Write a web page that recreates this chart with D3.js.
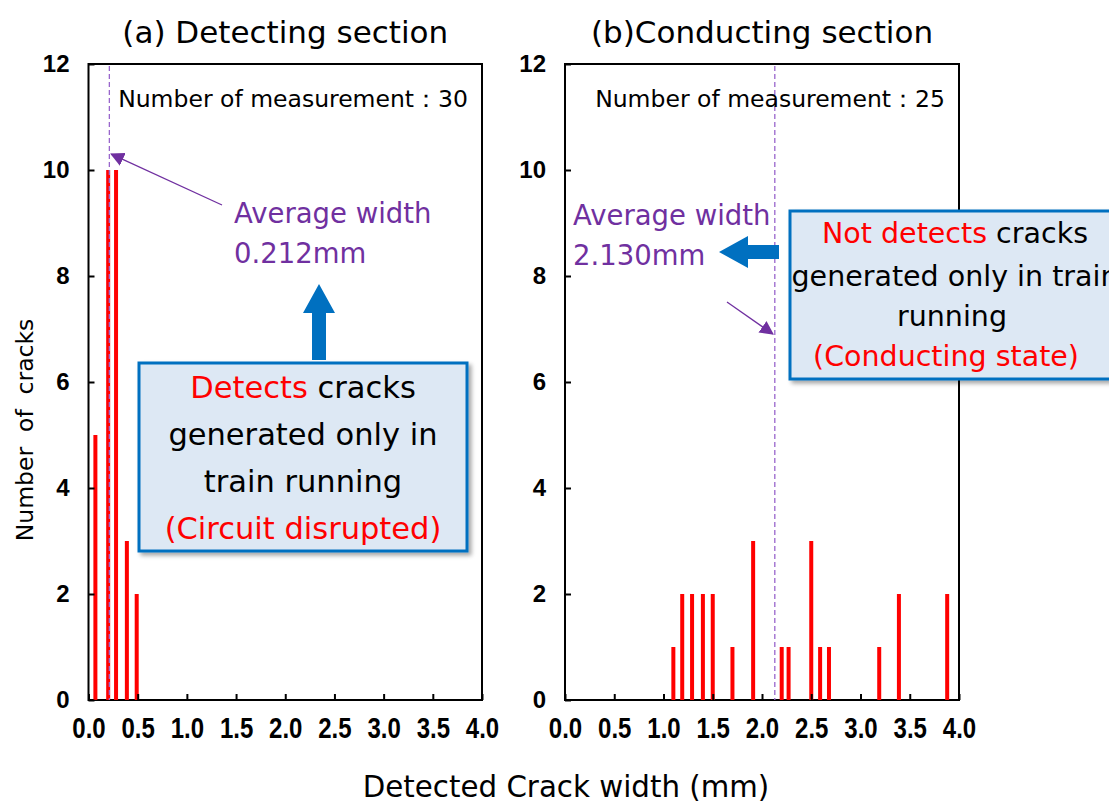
<!DOCTYPE html>
<html><head><meta charset="utf-8">
<script src="https://cdn.jsdelivr.net/npm/d3@7"></script>
<style>
body{margin:0;background:#fff;}
svg{display:block;font-family:"DejaVu Sans","Noto Sans",sans-serif;}
</style></head>
<body><svg id="c" width="1109" height="803"></svg>
<script>
// ---- data ----
const xTicks = [0,0.5,1,1.5,2,2.5,3,3.5,4];
const yTicks = [0,2,4,6,8,10,12];
const widthsA = [0.07,0.2,0.28,0.39,0.49];
const countsA = [5,10,10,3,2];
const widthsB = [1.1,1.19,1.29,1.4,1.5,1.7,1.91,2.2,2.27,2.5,2.59,2.68,3.19,3.39,3.88];
const countsB = [1,2,2,2,2,1,3,1,1,3,1,1,1,2,2];
const titles = ["(a) Detecting section","(b)Conducting section"];
const nMeas = [30,25];
const avgW = [0.212,2.130];
const avgLabels = ["0.212mm","2.130mm"];

const svg = d3.select("#c");
const defs = svg.append("defs");
const f = defs.append("filter").attr("id","sh").attr("x","-10%").attr("y","-10%").attr("width","130%").attr("height","130%");
f.append("feDropShadow").attr("dx",3).attr("dy",3).attr("stdDeviation",2).attr("flood-color","#000").attr("flood-opacity",0.35);
defs.append("marker").attr("id","pa").attr("viewBox","0 0 10 10").attr("refX",9).attr("refY",5)
  .attr("markerWidth",14).attr("markerHeight",14).attr("markerUnits","userSpaceOnUse").attr("orient","auto")
  .append("path").attr("d","M0,0L10,5L0,10Z").attr("fill","#7030A0");

const PURPLE="#7030A0", BLUE="#0070C0";
const TICKFONT="'Liberation Sans',Arial,sans-serif";
const yTop=64, yBot=700;

function panel(x0,x1,widths,counts,i){
  const x=d3.scaleLinear().domain([0,4]).range([x0,x1]);
  const y=d3.scaleLinear().domain([0,12]).range([yBot,yTop]);
  const g=svg.append("g");
  g.append("rect").attr("x",x0).attr("y",yTop).attr("width",x1-x0).attr("height",yBot-yTop)
    .attr("fill","none").attr("stroke","#000").attr("stroke-width",2);
  g.selectAll(".bar").data(widths.map((w,k)=>({w,c:counts[k]}))).join("rect")
    .attr("x",d=>x(d.w)-2).attr("width",4).attr("y",d=>y(d.c)).attr("height",d=>yBot-y(d.c))
    .attr("fill","#FF0000");
  const ax=g.append("g").attr("transform",`translate(0,${yBot})`)
    .call(d3.axisBottom(x).tickValues(xTicks).tickFormat(d3.format(".1f")).tickSizeInner(-6).tickSizeOuter(0).tickPadding(14));
  ax.select(".domain").remove();
  ax.selectAll("line").attr("stroke","#000").attr("stroke-width",2);
  ax.selectAll("text").attr("font-family",TICKFONT).attr("font-weight","bold")
    .attr("font-size",24).attr("fill","#000").attr("transform","scale(1,1.22)");
  const ay=g.append("g").attr("transform",`translate(${x0},0)`)
    .call(d3.axisLeft(y).tickValues(yTicks).tickSizeInner(-6).tickSizeOuter(0).tickPadding(19));
  ay.select(".domain").remove();
  ay.selectAll("line").attr("stroke","#000").attr("stroke-width",2);
  ay.selectAll("text").attr("font-family",TICKFONT).attr("font-weight","bold")
    .attr("font-size",24).attr("fill","#000");
  g.append("line").attr("x1",x(avgW[i])).attr("x2",x(avgW[i])).attr("y1",yTop+2).attr("y2",yBot)
    .attr("stroke","#9966CC").attr("stroke-width",1.3).attr("stroke-dasharray","5,3");
  svg.append("text").attr("x",(x0+x1)/2).attr("y",43).attr("text-anchor","middle")
    .attr("font-size",31).attr("fill","#000").text(titles[i]);
  g.append("text").attr("x",x1-14).attr("y",107).attr("text-anchor","end")
    .attr("font-size",23.5).attr("fill","#000").text("Number of measurement\uFF1A"+nMeas[i]);
  return {x,y};
}

const A=panel(88.5,482,widthsA,countsA,0);
const B=panel(565,959,widthsB,countsB,1);

// ---- panel (a) annotations ----
svg.append("line").attr("x1",222).attr("y1",205).attr("x2",A.x(avgW[0])+2).attr("y2",A.y(10.3))
  .attr("stroke",PURPLE).attr("stroke-width",1.3).attr("marker-end","url(#pa)");
const ta=svg.append("text").attr("font-size",27.5).attr("fill",PURPLE);
ta.append("tspan").attr("x",234).attr("y",223).text("Average width");
ta.append("tspan").attr("x",234).attr("y",263).text(avgLabels[0]);
svg.append("path").attr("d","M312,360L312,313L303,313L319,284L335,313L326,313L326,360Z").attr("fill",BLUE);
svg.append("rect").attr("x",139).attr("y",363).attr("width",328).attr("height",188)
  .attr("fill","#DDE8F4").attr("stroke",BLUE).attr("stroke-width",3).attr("filter","url(#sh)");
const tb=svg.append("text").attr("font-size",30.5).attr("text-anchor","middle").attr("fill","#000");
let l=tb.append("tspan").attr("x",303).attr("y",398);
l.append("tspan").attr("fill","#FF0000").text("Detects");
l.append("tspan").text(" cracks");
tb.append("tspan").attr("x",303).attr("y",445).text("generated only in");
tb.append("tspan").attr("x",303).attr("y",492).text("train running");
tb.append("tspan").attr("x",303).attr("y",539).attr("fill","#FF0000").text("(Circuit disrupted)");

// ---- panel (b) annotations ----
const tc=svg.append("text").attr("font-size",27.5).attr("fill",PURPLE);
tc.append("tspan").attr("x",573).attr("y",225).text("Average width");
tc.append("tspan").attr("x",573).attr("y",265).text(avgLabels[1]);
svg.append("line").attr("x1",727).attr("y1",302).attr("x2",B.x(avgW[1])-2).attr("y2",334)
  .attr("stroke",PURPLE).attr("stroke-width",1.3).attr("marker-end","url(#pa)");
svg.append("path").attr("d","M779,245L748,245L748,236L719,252L748,268L748,259L779,259Z").attr("fill",BLUE);
svg.append("rect").attr("x",790).attr("y",211).attr("width",340).attr("height",168)
  .attr("fill","#DDE8F4").attr("stroke",BLUE).attr("stroke-width",3).attr("filter","url(#sh)");
const td=svg.append("text").attr("font-size",28.5).attr("text-anchor","middle").attr("fill","#000");
l=td.append("tspan").attr("x",955).attr("y",243);
l.append("tspan").attr("fill","#FF0000").text("Not detects");
l.append("tspan").text(" cracks");
td.append("tspan").attr("x",955).attr("y",286).text("generated only in train");
td.append("tspan").attr("x",952).attr("y",326).text("running");
td.append("tspan").attr("x",946).attr("y",366).attr("fill","#FF0000").text("(Conducting state)");

// ---- axis titles ----
svg.append("text").attr("transform","translate(33,430) rotate(-90)").attr("text-anchor","middle")
  .attr("font-size",23.5).attr("fill","#000").style("white-space","pre")
  .text("Number  of  cracks");
svg.append("text").attr("x",566).attr("y",797).attr("text-anchor","middle")
  .attr("font-size",29.3).attr("fill","#000").text("Detected Crack width (mm)");
</script></body></html>
